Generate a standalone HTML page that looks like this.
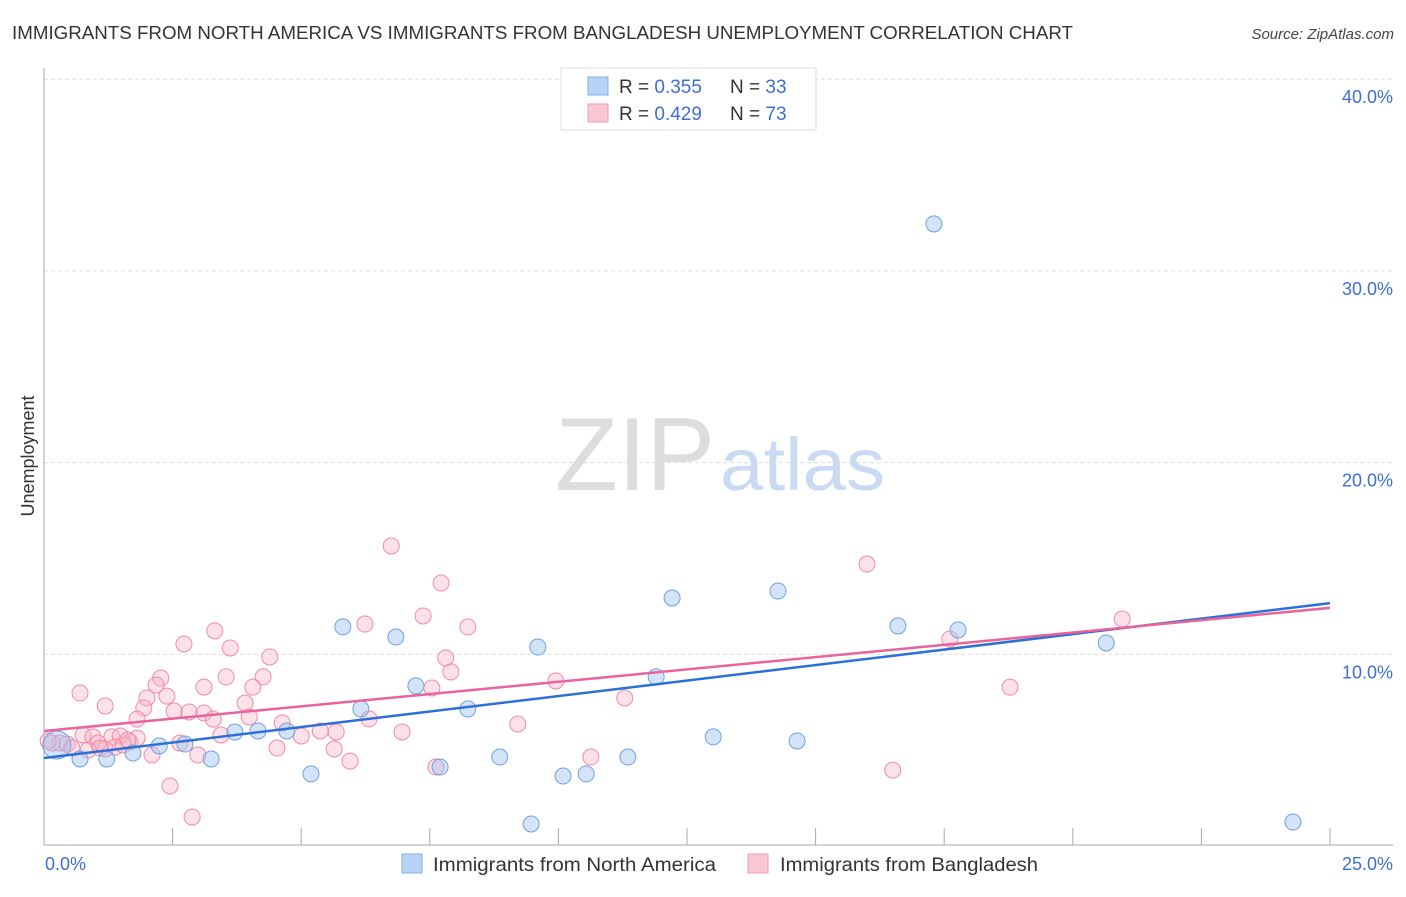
<!DOCTYPE html>
<html><head><meta charset="utf-8"><style>
body{margin:0;background:#fff;font-family:"Liberation Sans",sans-serif}
svg text{font-family:"Liberation Sans",sans-serif}
</style></head><body>
<svg id="chart" width="1406" height="892" xmlns="http://www.w3.org/2000/svg">
<text x="12" y="39" font-size="18" fill="#333" textLength="1061" lengthAdjust="spacingAndGlyphs">IMMIGRANTS FROM NORTH AMERICA VS IMMIGRANTS FROM BANGLADESH UNEMPLOYMENT CORRELATION CHART</text>
<text x="1394" y="39" font-size="15" fill="#444" font-style="italic" text-anchor="end">Source: ZipAtlas.com</text>
<g>
<text x="555" y="490" font-size="104" fill="#ddd" font-family="Liberation Serif, serif" textLength="160" lengthAdjust="spacingAndGlyphs">ZIP</text>
<text x="720" y="490" font-size="74" fill="#c9daf2" textLength="165" lengthAdjust="spacingAndGlyphs">atlas</text>
</g>
<g id="grid"></g>
<g id="axes"></g>
<g id="marks"></g>
<text transform="translate(34,456) rotate(-90)" font-size="18" fill="#333" text-anchor="middle">Unemployment</text>
<g>
<rect x="561" y="68" width="255" height="62" fill="#fff" stroke="#ddd"/>
<rect x="588" y="77" width="20" height="18" fill="#b8d3f5" stroke="#86aee6"/>
<rect x="588" y="104" width="20" height="18" fill="#f9c6d4" stroke="#f09ab3"/>
<text x="619" y="93" font-size="19" fill="#333">R = <tspan fill="#3b6fd4">0.355</tspan><tspan x="730">N = </tspan><tspan fill="#3b6fd4">33</tspan></text>
<text x="619" y="120" font-size="19" fill="#333">R = <tspan fill="#3b6fd4">0.429</tspan><tspan x="730">N = </tspan><tspan fill="#3b6fd4">73</tspan></text>
</g>
<g>
<rect x="402" y="854" width="20" height="19" fill="#b8d3f5" stroke="#86aee6"/>
<text x="433" y="871" font-size="19" fill="#333" textLength="283" lengthAdjust="spacingAndGlyphs">Immigrants from North America</text>
<rect x="748" y="854" width="20" height="19" fill="#f9c6d4" stroke="#f09ab3"/>
<text x="780" y="871" font-size="19" fill="#333" textLength="258" lengthAdjust="spacingAndGlyphs">Immigrants from Bangladesh</text>
</g>
</svg>
<script>
const blueX=[0.25,0.70,1.22,1.73,2.24,2.74,3.25,3.71,4.16,4.72,5.19,5.81,6.16,6.84,7.23,7.70,8.24,8.86,9.47,9.60,10.09,10.54,11.35,11.90,12.21,13.01,14.27,14.64,16.60,17.30,17.77,20.65,24.28];
const blueY=[5.27,4.54,4.54,4.85,5.22,5.32,4.54,5.95,6.00,6.00,3.76,11.43,7.15,10.90,8.35,4.12,7.15,4.64,1.15,10.38,3.65,3.76,4.64,8.82,12.94,5.69,13.30,5.48,11.48,32.45,11.27,10.59,1.25];
const pinkX=[6.75,7.72,6.24,7.37,8.24,7.81,7.91,7.54,6.32,6.96,7.62,2.72,3.32,3.62,4.39,4.26,3.54,4.06,3.11,2.27,2.18,2.39,2.00,1.94,1.81,0.70,1.19,2.53,2.82,3.11,3.29,3.91,3.99,3.44,4.63,5.00,5.37,5.68,4.53,5.64,5.95,2.10,2.99,2.45,2.88,2.64,0.16,0.31,0.45,0.76,0.95,1.05,1.32,1.48,1.67,1.81,1.19,1.38,9.95,11.29,10.63,16.0,17.61,18.78,20.96,16.5,9.21,0.08,0.54,0.86,1.54,1.63,1.09];
const pinkY=[15.65,13.72,11.58,12.00,11.43,9.81,9.08,8.24,6.63,5.95,4.12,10.54,11.22,10.33,9.86,8.82,8.82,8.29,8.29,8.76,8.40,7.82,7.72,7.20,6.62,7.98,7.30,7.04,6.99,6.94,6.62,7.46,6.73,5.79,6.42,5.74,6.00,5.95,5.11,5.06,4.43,4.75,4.75,3.13,1.51,5.37,5.37,5.37,5.32,5.79,5.69,5.37,5.69,5.74,5.43,5.63,5.06,5.16,8.61,7.72,4.64,14.71,10.80,8.29,11.84,3.96,6.36,5.48,5.11,5.01,5.27,5.53,5.11];
const blueTrend=[4.59,12.67];
const pinkTrend=[6.0,12.42];
const yTicks=[10,20,30,40];
const yTickLabels=["10.0%","20.0%","30.0%","40.0%"];
const xTicks=[0,2.5,5,7.5,10,12.5,15,17.5,20,22.5,25];
const xLabels=["0.0%","25.0%"];
const X=v=>44+v/25*1286;
const Y=v=>846-v/10*191.7;
const NS="http://www.w3.org/2000/svg";
function mk(p,t,a){const e=document.createElementNS(NS,t);for(const k in a)e.setAttribute(k,a[k]);document.getElementById(p).appendChild(e);return e;}
yTicks.forEach((t,i)=>{
 const l=mk('grid','line',{x1:44,x2:1393,y1:Y(t),y2:Y(t),stroke:'#ddd','stroke-dasharray':'4,3'});
 
 
 const tx=mk('grid','text',{x:1393,y:Y(t)+24,'font-size':18,fill:'#3b6fd4','text-anchor':'end'});
 tx.textContent=yTickLabels[i];
 
 
});
let a=mk('axes','line',{x1:44,x2:44,y1:68,y2:845,stroke:'#aaa'});


a=mk('axes','line',{x1:44,x2:1393,y1:845,y2:845,stroke:'#aaa'});


xTicks.forEach(t=>{
 const l=mk('axes','line',{x1:X(t),x2:X(t),y1:828,y2:845,stroke:'#aaa'});
 
 
});
let t1=mk('axes','text',{x:45,y:870,'font-size':18,fill:'#3b6fd4'});t1.textContent=xLabels[0];


let t2=mk('axes','text',{x:1393,y:870,'font-size':18,fill:'#3b6fd4','text-anchor':'end'});t2.textContent=xLabels[1];


pinkX.forEach((x,i)=>{
 const c=mk('marks','circle',{cx:X(x),cy:Y(pinkY[i]),r:8,fill:'rgba(248,180,200,0.4)',stroke:'#f08aa8','stroke-width':1});
 
 
});
blueX.forEach((x,i)=>{
 const c=mk('marks','circle',{cx:X(x),cy:Y(blueY[i]),r:i===0?14:8,fill:'rgba(160,195,240,0.45)',stroke:'#6fa0e0','stroke-width':1});
 
 
});
let b=mk('marks','line',{x1:X(0),x2:X(25),y1:Y(blueTrend[0]),y2:Y(blueTrend[1]),stroke:'#2d6fd8','stroke-width':2.5});


let p=mk('marks','line',{x1:X(0),x2:X(25),y1:Y(pinkTrend[0]),y2:Y(pinkTrend[1]),stroke:'#e8649a','stroke-width':2.5});


</script>
</body></html>
